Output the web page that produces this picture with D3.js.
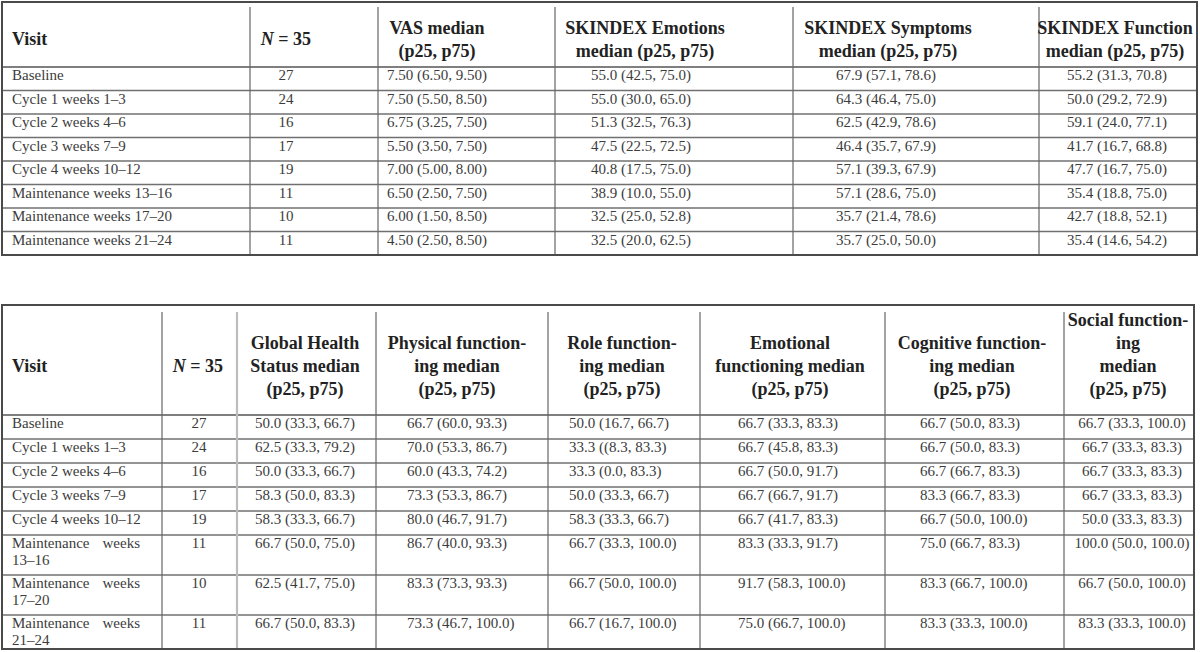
<html>
<head>
<script src="https://d3js.org/d3.v7.min.js"></script>
<style>
  body { margin: 0; background: #fff; }
  svg text { font-family: "Liberation Serif", "Times New Roman", serif; }
  .hdr { font-size: 18px; font-weight: bold; fill: #222; }
  .cell { font-size: 15px; fill: #3c3c3c; }
</style>
</head>
<body>
<svg id="tables" width="1200" height="652"></svg>
<script>
// ---- top table data ----
const visits = ["Baseline", "Cycle 1 weeks 1\u20133", "Cycle 2 weeks 4\u20136", "Cycle 3 weeks 7\u20139",
  "Cycle 4 weeks 10\u201312", "Maintenance weeks 13\u201316", "Maintenance weeks 17\u201320", "Maintenance weeks 21\u201324"];
const nPatients = [27, 24, 16, 17, 19, 11, 10, 11];
const vas = ["7.50 (6.50, 9.50)", "7.50 (5.50, 8.50)", "6.75 (3.25, 7.50)", "5.50 (3.50, 7.50)",
  "7.00 (5.00, 8.00)", "6.50 (2.50, 7.50)", "6.00 (1.50, 8.50)", "4.50 (2.50, 8.50)"];
const skEmotions = ["55.0 (42.5, 75.0)", "55.0 (30.0, 65.0)", "51.3 (32.5, 76.3)", "47.5 (22.5, 72.5)",
  "40.8 (17.5, 75.0)", "38.9 (10.0, 55.0)", "32.5 (25.0, 52.8)", "32.5 (20.0, 62.5)"];
const skSymptoms = ["67.9 (57.1, 78.6)", "64.3 (46.4, 75.0)", "62.5 (42.9, 78.6)", "46.4 (35.7, 67.9)",
  "57.1 (39.3, 67.9)", "57.1 (28.6, 75.0)", "35.7 (21.4, 78.6)", "35.7 (25.0, 50.0)"];
const skFunction = ["55.2 (31.3, 70.8)", "50.0 (29.2, 72.9)", "59.1 (24.0, 77.1)", "41.7 (16.7, 68.8)",
  "47.7 (16.7, 75.0)", "35.4 (18.8, 75.0)", "42.7 (18.8, 52.1)", "35.4 (14.6, 54.2)"];

// ---- bottom table data ----
const visitsBottom = [["Baseline"], ["Cycle 1 weeks 1\u20133"], ["Cycle 2 weeks 4\u20136"], ["Cycle 3 weeks 7\u20139"],
  ["Cycle 4 weeks 10\u201312"], ["Maintenance weeks", "13\u201316"], ["Maintenance weeks", "17\u201320"], ["Maintenance weeks", "21\u201324"]];
const globalHealth = ["50.0 (33.3, 66.7)", "62.5 (33.3, 79.2)", "50.0 (33.3, 66.7)", "58.3 (50.0, 83.3)",
  "58.3 (33.3, 66.7)", "66.7 (50.0, 75.0)", "62.5 (41.7, 75.0)", "66.7 (50.0, 83.3)"];
const physical = ["66.7 (60.0, 93.3)", "70.0 (53.3, 86.7)", "60.0 (43.3, 74.2)", "73.3 (53.3, 86.7)",
  "80.0 (46.7, 91.7)", "86.7 (40.0, 93.3)", "83.3 (73.3, 93.3)", "73.3 (46.7, 100.0)"];
const roleFn = ["50.0 (16.7, 66.7)", "33.3 ((8.3, 83.3)", "33.3 (0.0, 83.3)", "50.0 (33.3, 66.7)",
  "58.3 (33.3, 66.7)", "66.7 (33.3, 100.0)", "66.7 (50.0, 100.0)", "66.7 (16.7, 100.0)"];
const emotionalFn = ["66.7 (33.3, 83.3)", "66.7 (45.8, 83.3)", "66.7 (50.0, 91.7)", "66.7 (66.7, 91.7)",
  "66.7 (41.7, 83.3)", "83.3 (33.3, 91.7)", "91.7 (58.3, 100.0)", "75.0 (66.7, 100.0)"];
const cognitiveFn = ["66.7 (50.0, 83.3)", "66.7 (50.0, 83.3)", "66.7 (66.7, 83.3)", "83.3 (66.7, 83.3)",
  "66.7 (50.0, 100.0)", "75.0 (66.7, 83.3)", "83.3 (66.7, 100.0)", "83.3 (33.3, 100.0)"];
const socialFn = ["66.7 (33.3, 100.0)", "66.7 (33.3, 83.3)", "66.7 (33.3, 83.3)", "66.7 (33.3, 83.3)",
  "50.0 (33.3, 83.3)", "100.0 (50.0, 100.0)", "66.7 (50.0, 100.0)", "83.3 (33.3, 100.0)"];
const rowLines = [1, 1, 1, 1, 1, 2, 2, 2];

const svg = d3.select("svg#tables");

function nHeader(g, x, y) {
  let t = g.append("text").attr("class", "hdr").attr("x", x).attr("y", y).attr("text-anchor", "middle");
  t.append("tspan").style("font-style", "italic").text("N");
  t.append("tspan").text(" = 35");
}

function headerLines(g, lines, x, lastY, anchor) {
  lines.forEach((l, i) => {
    g.append("text").attr("class", "hdr")
      .attr("x", x).attr("y", lastY - (lines.length - 1 - i) * 23)
      .attr("text-anchor", anchor || "middle").text(l);
  });
}

// ================= TOP TABLE =================
const tA = {left: 2, right: 1197, top: 2, head: 67, bottom: 255};
const gTop = svg.append("g");
svg.append("clipPath").attr("id", "clipTop").append("rect")
  .attr("x", tA.left).attr("y", tA.top).attr("width", tA.right - tA.left).attr("height", tA.bottom - tA.top);
gTop.attr("clip-path", "url(#clipTop)");

const yTop = d3.scaleBand().domain(visits).range([tA.head, tA.bottom]);
const topCols = [250, 378, 555, 793, 1039];

// row lines
visits.forEach((v, i) => {
  if (i > 0) gTop.append("line").attr("x1", tA.left).attr("x2", tA.right)
    .attr("y1", yTop(v)).attr("y2", yTop(v)).attr("stroke", "#707070").attr("stroke-width", 1.5);
});
gTop.append("line").attr("x1", tA.left).attr("x2", tA.right).attr("y1", tA.head).attr("y2", tA.head)
  .attr("stroke", "#555").attr("stroke-width", 1.5);
topCols.forEach(x => {
  gTop.append("line").attr("x1", x).attr("x2", x).attr("y1", tA.top + 5).attr("y2", tA.bottom)
    .attr("stroke", "#666").attr("stroke-width", 1.2);
});

// header
headerLines(gTop, ["Visit"], 12, 45, "start");
nHeader(gTop, 286, 45);
headerLines(gTop, ["VAS median", "(p25, p75)"], 437, 57);
headerLines(gTop, ["SKINDEX Emotions", "median (p25, p75)"], 645, 57);
headerLines(gTop, ["SKINDEX Symptoms", "median (p25, p75)"], 888, 57);
headerLines(gTop, ["SKINDEX Function", "median (p25, p75)"], 1115, 57);

const topSeries = [
  {vals: visits, x: 12, anchor: "start"},
  {vals: nPatients, x: 286, anchor: "middle"},
  {vals: vas, x: 437, anchor: "middle"},
  {vals: skEmotions, x: 641, anchor: "middle"},
  {vals: skSymptoms, x: 886, anchor: "middle"},
  {vals: skFunction, x: 1117, anchor: "middle"}
];
topSeries.forEach(s => {
  gTop.selectAll(null).data(s.vals).join("text").attr("class", "cell")
    .attr("x", s.x).attr("y", (d, i) => yTop(visits[i]) + 13)
    .attr("text-anchor", s.anchor).text(d => d);
});

svg.append("rect").attr("x", tA.left).attr("y", tA.top)
  .attr("width", tA.right - tA.left).attr("height", tA.bottom - tA.top)
  .attr("fill", "none").attr("stroke", "#4a4a4a").attr("stroke-width", 2);

// ================= BOTTOM TABLE =================
const tB = {left: 2, right: 1194, top: 305, head: 415, bottom: 649};
const gBot = svg.append("g");
svg.append("clipPath").attr("id", "clipBot").append("rect")
  .attr("x", tB.left).attr("y", tB.top).attr("width", tB.right - tB.left).attr("height", tB.bottom - tB.top);
gBot.attr("clip-path", "url(#clipBot)");

const rowH = d3.scaleLinear().domain([1, 2]).range([24, 40]);
const rowTops = [tB.head].concat(Array.from(d3.cumsum(rowLines, n => rowH(n))).map(c => tB.head + c));
const botCols = [162, 237, 376, 548, 700, 885, 1064];

rowTops.slice(1, -1).forEach(y => {
  gBot.append("line").attr("x1", tB.left).attr("x2", tB.right).attr("y1", y).attr("y2", y)
    .attr("stroke", "#707070").attr("stroke-width", 1.5);
});
gBot.append("line").attr("x1", tB.left).attr("x2", tB.right).attr("y1", tB.head).attr("y2", tB.head)
  .attr("stroke", "#555").attr("stroke-width", 1.5);
botCols.forEach(x => {
  gBot.append("line").attr("x1", x).attr("x2", x).attr("y1", tB.top + 7).attr("y2", tB.bottom)
    .attr("stroke", x === 237 ? "#bdbdbd" : "#666").attr("stroke-width", x === 237 ? 2.2 : 1.2);
});

headerLines(gBot, ["Visit"], 12, 372, "start");
nHeader(gBot, 198, 372);
headerLines(gBot, ["Global Health", "Status median", "(p25, p75)"], 305, 395);
headerLines(gBot, ["Physical function-", "ing median", "(p25, p75)"], 457, 395);
headerLines(gBot, ["Role function-", "ing median", "(p25, p75)"], 622, 395);
headerLines(gBot, ["Emotional", "functioning median", "(p25, p75)"], 790, 395);
headerLines(gBot, ["Cognitive function-", "ing median", "(p25, p75)"], 972, 395);
headerLines(gBot, ["Social function-", "ing", "median", "(p25, p75)"], 1128, 395);

// visit labels (justified when wrapped)
visitsBottom.forEach((lines, i) => {
  lines.forEach((l, j) => {
    const y = rowTops[i] + 13 + j * 17;
    const words = l.split(" ");
    if (lines.length > 1 && j === 0 && words.length === 2) {
      gBot.append("text").attr("class", "cell").attr("x", 12).attr("y", y).text(words[0]);
      gBot.append("text").attr("class", "cell").attr("x", 140).attr("y", y).attr("text-anchor", "end").text(words[1]);
    } else {
      gBot.append("text").attr("class", "cell").attr("x", 12).attr("y", y).text(l);
    }
  });
});

const botSeries = [
  {vals: nPatients, x: 199, anchor: "middle"},
  {vals: globalHealth, x: 255, anchor: "start"},
  {vals: physical, x: 407, anchor: "start"},
  {vals: roleFn, x: 569, anchor: "start"},
  {vals: emotionalFn, x: 738, anchor: "start"},
  {vals: cognitiveFn, x: 920, anchor: "start"},
  {vals: socialFn, x: 1132, anchor: "middle"}
];
botSeries.forEach(s => {
  gBot.selectAll(null).data(s.vals).join("text").attr("class", "cell")
    .attr("x", s.x).attr("y", (d, i) => rowTops[i] + 13)
    .attr("text-anchor", s.anchor).text(d => d);
});

svg.append("rect").attr("x", tB.left).attr("y", tB.top)
  .attr("width", tB.right - tB.left).attr("height", tB.bottom - tB.top)
  .attr("fill", "none").attr("stroke", "#4a4a4a").attr("stroke-width", 2);
</script>
</body>
</html>
